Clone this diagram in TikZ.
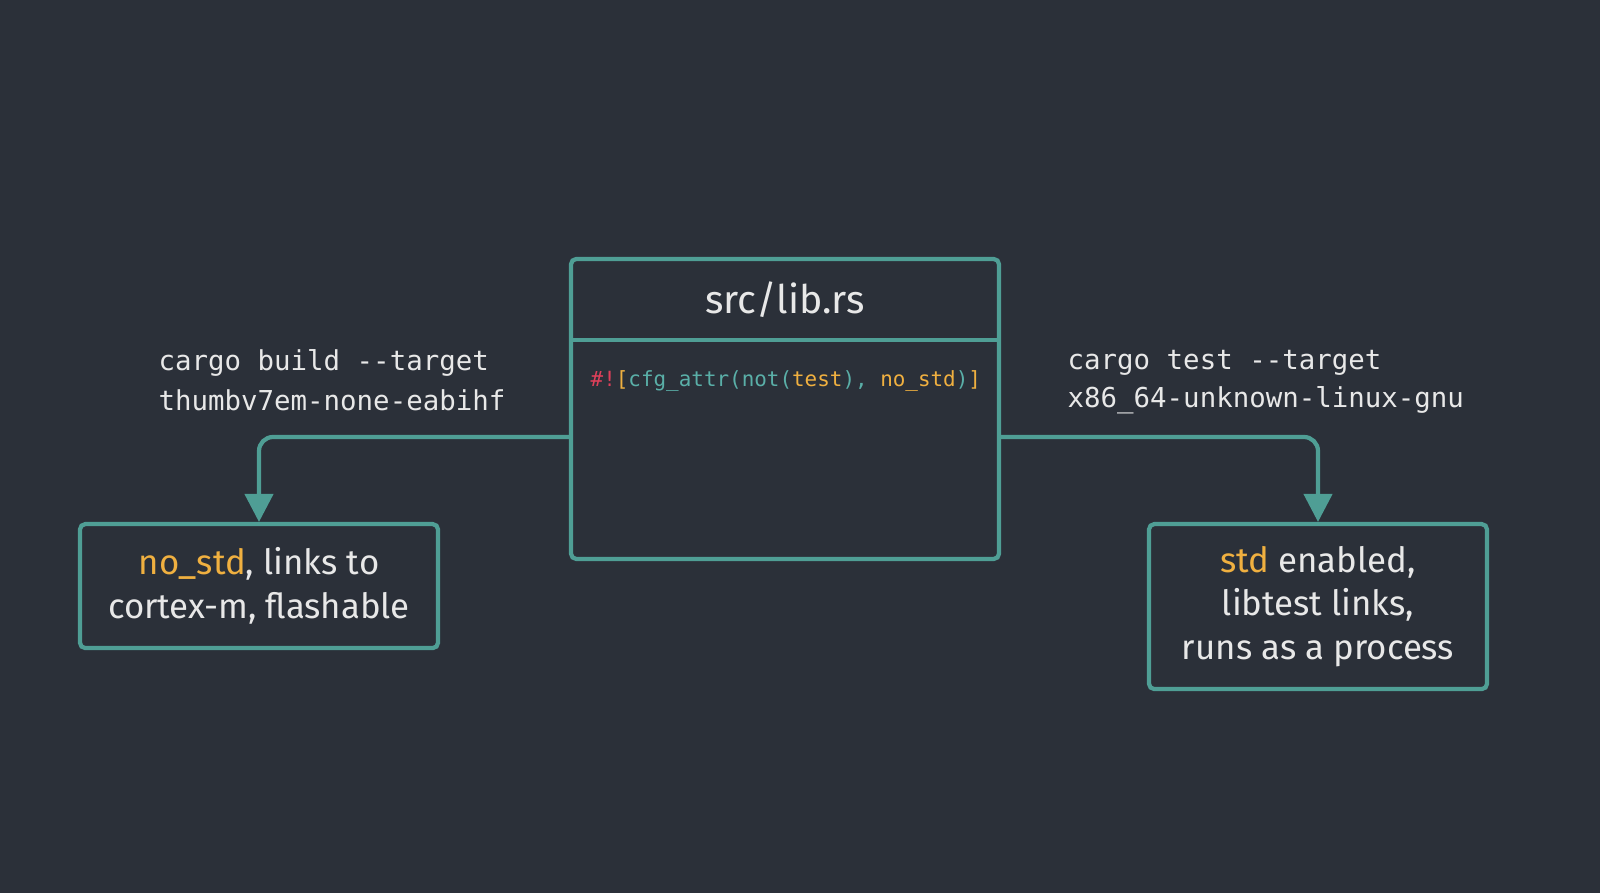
\documentclass[tikz,border=0pt]{standalone}
\usepackage{fontspec}
\setmainfont{Fira Sans}
\setmonofont{DejaVu Sans Mono}
\usetikzlibrary{arrows.meta}
\definecolor{bg}{HTML}{2B3039}
\definecolor{teal}{HTML}{4F9E95}
\definecolor{ora}{HTML}{F0B040}
\definecolor{hash}{HTML}{E0405A}
\definecolor{codeteal}{HTML}{5AAFA8}
\definecolor{txt}{HTML}{E8E8E8}
\begin{document}
\begin{tikzpicture}[font=\fontsize{9.9}{12.5}\selectfont,
	box/.style={draw=teal,line width=1.2pt,rounded corners=1.5pt},
	lbl/.style={anchor=west,inner sep=0pt,text=txt,font=\ttfamily\fontsize{7.8}{10}\selectfont,align=left},
	link/.style={draw=teal,line width=1.2pt,rounded corners=4pt,-{Triangle[width=8pt,length=8pt]}}]
		\fill[bg] (0,0) rectangle (16,8.93);
		\useasboundingbox (0,0) rectangle (16,8.93);
		%%%
		\draw[box] (5.71,3.34) rectangle (9.99,6.34);
		\draw[teal,line width=1.2pt] (5.71,5.53) -- (9.99,5.53);
		\node[text=txt,font=\fontsize{11.2}{14}\selectfont] (title) at (7.85,5.93) {src/lib.rs};
		\node[anchor=west,inner sep=0pt,font=\ttfamily\fontsize{5.95}{7}\selectfont] (code) at (5.90,5.12)
			{\textcolor{hash}{\#!}\textcolor{ora}{[}\textcolor{codeteal}{cfg\_attr(not(}\textcolor{ora}{test}\textcolor{codeteal}{),} \textcolor{ora}{no\_std}\textcolor{codeteal}{)}\textcolor{ora}{]}};
		\coordinate (mainW) at (5.71,4.56);
		\coordinate (mainE) at (9.99,4.56);
		%%%
		\node[box,minimum width=3.58cm,minimum height=1.24cm,align=center,text=txt,anchor=north] (nostd) at (2.59,3.71)
			{\textcolor{ora}{no\_std}, links to\\cortex-m, flashable};
		\node[box,minimum width=3.38cm,minimum height=1.65cm,align=center,text=txt,anchor=north] (std) at (13.18,3.71)
			{\textcolor{ora}{std} enabled,\\libtest links,\\runs as a process};
		%%%
		\node[lbl] (buildA) at (1.58,5.30) {cargo build --target};
		\node[lbl] (buildB) at (1.58,4.93) {thumbv7em-none-eabihf};
		\node[lbl] (testA) at (10.67,5.30) {cargo test --target};
		\node[lbl] (testB) at (10.67,4.93) {x86\_64-unknown-linux-gnu};
		%%%
		\draw[link] (mainW) -| (nostd.north);
		\draw[link] (mainE) -| (std.north);
	\end{tikzpicture}
\end{document}
